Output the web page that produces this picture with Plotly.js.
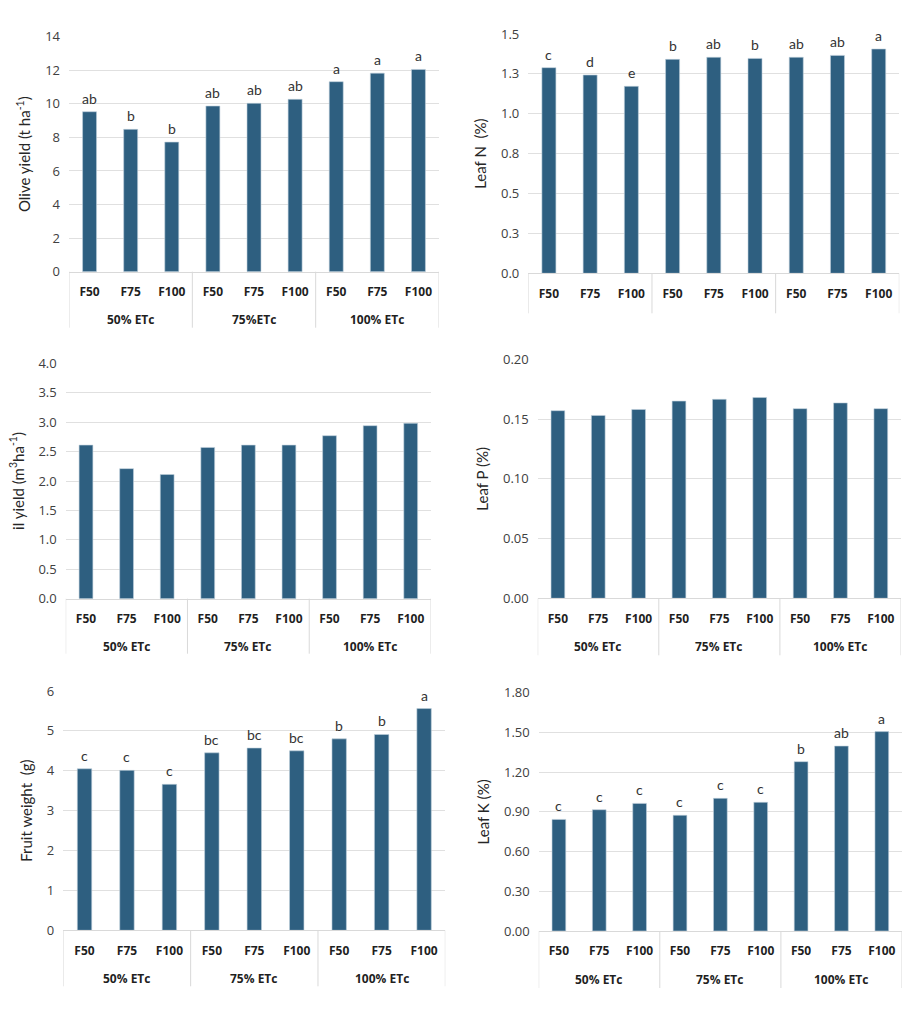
<!DOCTYPE html>
<html><head><meta charset="utf-8">
<script src="https://cdn.plot.ly/plotly-3.0.1.min.js"></script>
<style>body{margin:0;background:#fff}#chart{width:921px;height:1024px}</style>
</head><body><div id="chart"></div>
<script>
// ---- data ----
const fert = ["F50","F75","F100","F50","F75","F100","F50","F75","F100"];
const groupsA = ["50% ETc","50% ETc","50% ETc","75%ETc","75%ETc","75%ETc","100% ETc","100% ETc","100% ETc"];
const groupsBlank = ["g1","g1","g1","g2","g2","g2","g3","g3","g3"]; // Leaf N panel: no group names shown
const groupsB = ["50% ETc","50% ETc","50% ETc","75% ETc","75% ETc","75% ETc","100% ETc","100% ETc","100% ETc"];

const oliveYield = [9.53, 8.48, 7.72, 9.87, 10.03, 10.27, 11.32, 11.83, 12.05];
const oliveLetters = ["ab","b","b","ab","ab","ab","a","a","a"];
const leafN = [1.289, 1.243, 1.172, 1.341, 1.354, 1.347, 1.354, 1.366, 1.406];
const leafNLetters = ["c","d","e","b","ab","b","ab","ab","a"];
const oilYield = [2.61, 2.21, 2.11, 2.57, 2.61, 2.61, 2.77, 2.94, 2.98];
const leafP = [0.157, 0.153, 0.158, 0.165, 0.1665, 0.168, 0.1587, 0.1635, 0.1587];
const fruitWeight = [4.05, 4.01, 3.66, 4.45, 4.57, 4.50, 4.80, 4.91, 5.56];
const fruitLetters = ["c","c","c","bc","bc","bc","b","b","a"];
const leafK = [0.843, 0.916, 0.964, 0.874, 1.002, 0.972, 1.279, 1.397, 1.506];
const leafKLetters = ["c","c","c","c","c","c","b","ab","a"];

const leafNTicks = [0, 0.25, 0.5, 0.75, 1.0, 1.25, 1.5];
const leafNTickText = ["0.0","0.3","0.5","0.8","1.0","1.3","1.5"];

// ---- style ----
const BAR = "#2E5F80";
const W = 921, H = 1024;
const fx = (a,b) => [a/W, b/W];
const fy = (top,bot) => [1-bot/H, 1-top/H];
const idx = fert.map((_, i) => i);

const data = [], shapes = [], annotations = [];
const layout = {
  width: W, height: H, margin: {l:0, r:0, t:0, b:0},
  paper_bgcolor: "#fff", plot_bgcolor: "#fff",
  shapes: shapes, annotations: annotations
};

function panel(n, xdom, ydom, values, letters, groups, showGroups, yopts, title, dividerLen) {
  const sx = n > 1 ? String(n) : "";
  const xa = "x" + sx, ya = "y" + sx;
  data.push({
    type: "bar", x: idx, y: values, xaxis: xa, yaxis: ya,
    marker: {color: BAR, line: {color: "#BFD0DC", width: 0.6}},
    width: 0.34, hoverinfo: "skip", showlegend: false
  });
  layout["xaxis" + sx] = {
    domain: xdom, anchor: ya, range: [-0.5, fert.length - 0.5],
    tickmode: "array", tickvals: idx, ticktext: fert,
    showline: true, linecolor: "#D9D9D9", linewidth: 1,
    showgrid: false, zeroline: false, ticks: "", ticklabelstandoff: 9,
    tickfont: {family: "Open Sans, sans-serif", size: 12, color: "#1f1f1f", weight: "bold"},
    fixedrange: true
  };
  layout["yaxis" + sx] = Object.assign({
    domain: ydom, anchor: xa,
    showgrid: true, gridcolor: "#E0E0E0", gridwidth: 1, zeroline: false, showline: false,
    ticks: "", ticklabelstandoff: 8,
    tickfont: {family: "Open Sans, sans-serif", size: 13, color: "#404040"},
    title: {text: title, font: {family: "Lato, sans-serif", size: 15, color: "#262626"}, standoff: 10},
    fixedrange: true
  }, yopts);
  const plotH = (ydom[1] - ydom[0]) * H;
  // group dividers
  const bounds = [-0.5];
  for (let i = 1; i < groups.length; i++) if (groups[i] !== groups[i-1]) bounds.push(i - 0.5);
  bounds.push(groups.length - 0.5);
  bounds.forEach(b => shapes.push({
    type: "line", xref: xa, yref: ya + " domain", x0: b, x1: b, y0: 0, y1: -dividerLen / plotH,
    line: {color: "#D9D9D9", width: 1}
  }));
  // group labels
  if (showGroups) {
    for (let k = 0; k < bounds.length - 1; k++) {
      annotations.push({
        xref: xa, yref: ya + " domain", x: (bounds[k] + bounds[k+1]) / 2, y: 0, yshift: -48,
        text: groups[Math.ceil(bounds[k])], showarrow: false, yanchor: "middle",
        font: {family: "Open Sans, sans-serif", size: 12, color: "#1f1f1f", weight: "bold"}
      });
    }
  }
  // significance letters
  if (letters) {
    values.forEach((v, i) => annotations.push({
      xref: xa, yref: ya, x: i, y: v, yanchor: "bottom", yshift: 3,
      text: letters[i], showarrow: false,
      font: {family: "Lato, sans-serif", size: 14, color: "#333333"}
    }));
  }
}

panel(1, fx(69, 439), fy(36.7, 271.7), oliveYield, oliveLetters, groupsA, true,
      {range: [0, 14], dtick: 2, tickformat: "d"}, "Olive yield (t ha<sup>-1</sup>)", 56);
panel(2, fx(528.3, 899.3), fy(34, 273.3), leafN, leafNLetters, groupsBlank, false,
      {range: [0, 1.5], tickmode: "array", tickvals: leafNTicks, ticktext: leafNTickText}, "Leaf N  (%)", 40);
panel(3, fx(65.7, 431), fy(363.3, 598.7), oilYield, null, groupsB, true,
      {range: [0, 4], dtick: 0.5, tickformat: ".1f"}, "il yield (m<sup>3</sup>ha<sup>-1</sup>)", 55);
panel(4, fx(537.7, 901), fy(359.3, 598.3), leafP, null, groupsB, true,
      {range: [0, 0.2], dtick: 0.05, tickformat: ".2f"}, "Leaf P (%)", 57);
panel(5, fx(63.3, 445.3), fy(691, 930.3), fruitWeight, fruitLetters, groupsB, true,
      {range: [0, 6], dtick: 1, tickformat: "d"}, "Fruit weight  (g)", 56);
panel(6, fx(538.7, 902), fy(692.7, 931), leafK, leafKLetters, groupsB, true,
      {range: [0, 1.8], dtick: 0.3, tickformat: ".2f"}, "Leaf K (%)", 57);

Plotly.newPlot("chart", data, layout, {displayModeBar: false, staticPlot: true});
</script>
</body></html>
